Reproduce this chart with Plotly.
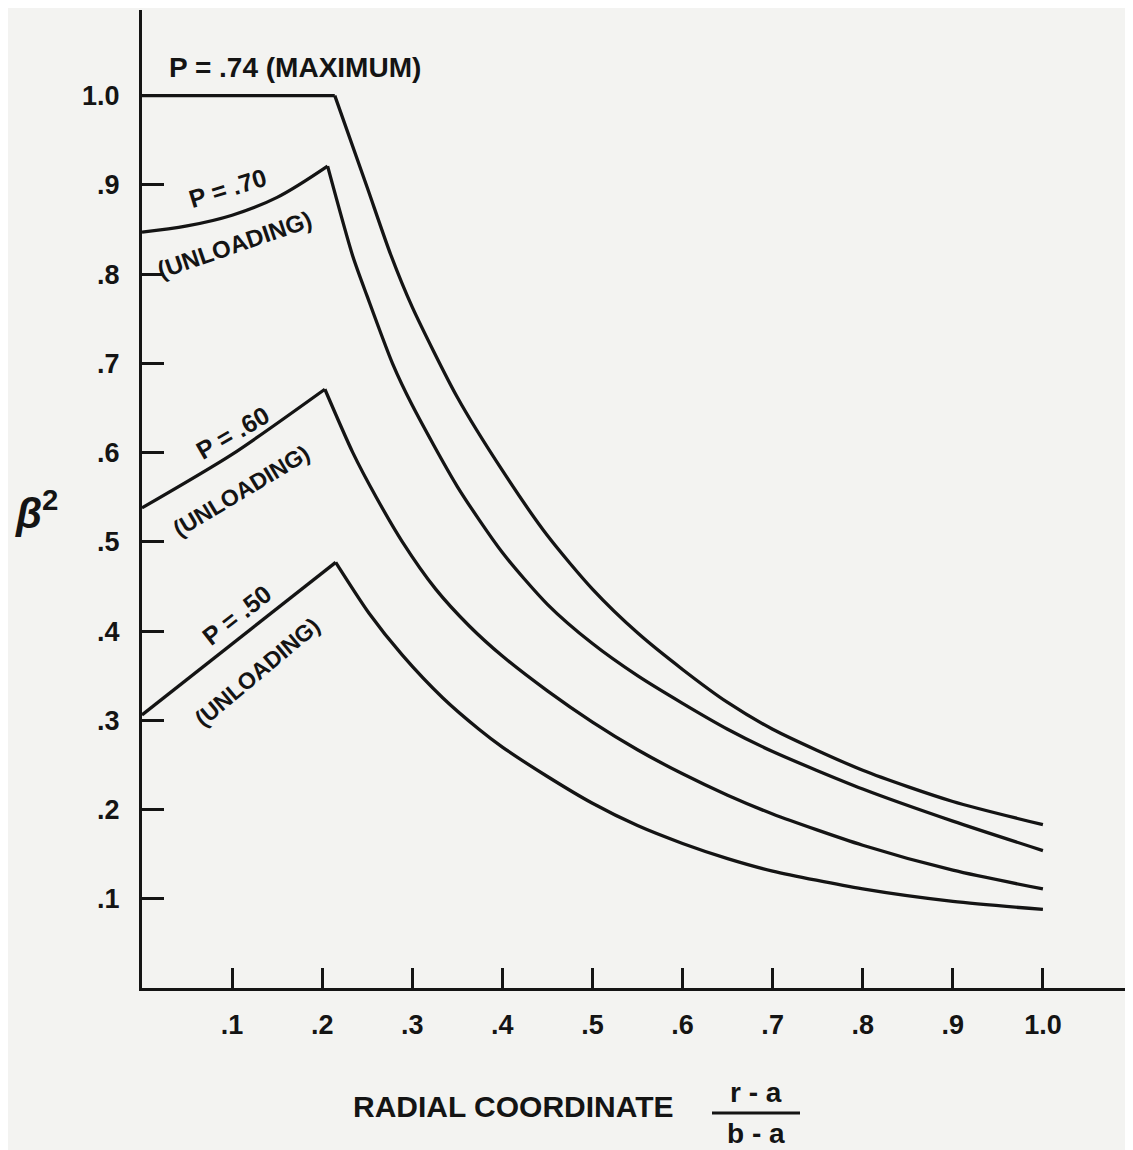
import plotly.graph_objects as go

# ---------------- data ----------------
x_ticks = [0.1, 0.2, 0.3, 0.4, 0.5, 0.6, 0.7, 0.8, 0.9, 1.0]
x_tick_labels = [".1", ".2", ".3", ".4", ".5", ".6", ".7", ".8", ".9", "1.0"]
y_ticks = [0.1, 0.2, 0.3, 0.4, 0.5, 0.6, 0.7, 0.8, 0.9, 1.0]
y_tick_labels = [".1", ".2", ".3", ".4", ".5", ".6", ".7", ".8", ".9", "1.0"]

# P = .74 (maximum)
p74_load_x = [0.0, 0.214]
p74_load_y = [1.0, 1.0]
p74_decay_x = [0.214, 0.25, 0.276, 0.30, 0.35, 0.40, 0.45, 0.50, 0.55, 0.60, 0.65, 0.70, 0.80, 0.90, 1.0]
p74_decay_y = [1.0, 0.897, 0.822, 0.763, 0.662, 0.580, 0.507, 0.447, 0.398, 0.357, 0.320, 0.290, 0.244, 0.209, 0.183]

# P = .70 (unloading)
p70_load_x = [0.0, 0.05, 0.10, 0.15, 0.206]
p70_load_y = [0.847, 0.854, 0.866, 0.886, 0.921]
p70_decay_x = [0.206, 0.234, 0.25, 0.278, 0.30, 0.35, 0.40, 0.45, 0.50, 0.55, 0.60, 0.65, 0.70, 0.80, 0.90, 1.0]
p70_decay_y = [0.921, 0.820, 0.775, 0.700, 0.653, 0.562, 0.488, 0.430, 0.386, 0.350, 0.319, 0.290, 0.265, 0.223, 0.187, 0.154]

# P = .60 (unloading)
p60_load_x = [0.0, 0.10, 0.203]
p60_load_y = [0.538, 0.598, 0.671]
p60_decay_x = [0.203, 0.234, 0.26, 0.289, 0.326, 0.363, 0.40, 0.45, 0.50, 0.55, 0.60, 0.65, 0.70, 0.80, 0.90, 1.0]
p60_decay_y = [0.671, 0.600, 0.550, 0.500, 0.447, 0.406, 0.372, 0.333, 0.298, 0.267, 0.240, 0.216, 0.195, 0.160, 0.132, 0.111]

# P = .50 (unloading)
p50_load_x = [0.0, 0.10, 0.215]
p50_load_y = [0.306, 0.386, 0.477]
p50_decay_x = [0.215, 0.252, 0.289, 0.334, 0.374, 0.40, 0.45, 0.50, 0.55, 0.60, 0.65, 0.70, 0.80, 0.90, 1.0]
p50_decay_y = [0.477, 0.420, 0.373, 0.325, 0.290, 0.270, 0.237, 0.207, 0.182, 0.162, 0.145, 0.131, 0.111, 0.097, 0.088]

# ---------------- figure ----------------
INK = "#141414"
BG = "#f3f3f1"
FONT = "Liberation Sans"
LW = 3.3

fig = go.Figure()

segments = [
    (p74_load_x, p74_load_y, "linear", 0),
    (p74_decay_x, p74_decay_y, "spline", 0.7),
    (p70_load_x, p70_load_y, "spline", 1.0),
    (p70_decay_x, p70_decay_y, "spline", 0.7),
    (p60_load_x, p60_load_y, "spline", 0.7),
    (p60_decay_x, p60_decay_y, "spline", 0.7),
    (p50_load_x, p50_load_y, "linear", 0),
    (p50_decay_x, p50_decay_y, "spline", 0.7),
]
for xs, ys, shape, sm in segments:
    line = dict(color=INK, width=LW, shape=shape)
    if shape == "spline":
        line["smoothing"] = sm
    fig.add_trace(go.Scatter(x=xs, y=ys, mode="lines", line=line,
                             showlegend=False, hoverinfo="skip"))

labels = [
    ("P = .74 (MAXIMUM)", 0.170, 1.032, 0, 28),
    ("P = .70", 0.095, 0.896, -17, 25),
    ("(UNLOADING)", 0.103, 0.833, -19, 24),
    ("P = .60", 0.100, 0.622, -30, 25),
    ("(UNLOADING)", 0.110, 0.557, -31, 23),
    ("P = .50", 0.105, 0.418, -38, 25),
    ("(UNLOADING)", 0.128, 0.354, -40, 23),
]
for text, x, y, ang, sz in labels:
    fig.add_annotation(x=x, y=y, xref="x", yref="y", text=text, showarrow=False,
                       textangle=ang,
                       font=dict(family=FONT, size=sz, color=INK, weight="bold"),
                       xanchor="center", yanchor="middle")

tick_font = dict(family=FONT, size=27, color=INK, weight="bold")
axis_common = dict(showgrid=False, zeroline=False, showline=True, linecolor=INK,
                   linewidth=3, ticks="inside", tickcolor=INK, tickfont=tick_font,
                   tickwidth=2.5, mirror=False)

fig.update_xaxes(range=[0, 1.1], tickvals=x_ticks, ticktext=x_tick_labels,
                 ticklen=20, ticklabelstandoff=11, **axis_common)
fig.update_yaxes(range=[0, 1.096], tickvals=y_ticks, ticktext=y_tick_labels,
                 ticklen=22, ticklabelstandoff=14, **axis_common)

# the page body has an 8px margin; size the figure so the plot lands where the reference has it
OFF = 8
W, H = 1133 - OFF, 1150 - OFF
ML, MT, MB = 142 - OFF, 10 - OFF, 162
fig.update_layout(width=W, height=H, margin=dict(l=ML, r=0, t=MT, b=MB, pad=0),
                  paper_bgcolor=BG, plot_bgcolor=BG, showlegend=False)


def px(xp):
    return (xp - OFF - ML) / (W - ML)


def py(yp):
    return (H - MB - (yp - OFF)) / (H - MT - MB)


# y-axis title (beta squared)
fig.add_annotation(x=px(36), y=py(510), xref="paper", yref="paper",
                   text="<i>β</i><sup>2</sup>", showarrow=False,
                   font=dict(family=FONT, size=42, color=INK, weight="bold"),
                   xanchor="center", yanchor="middle")

title_font = dict(family=FONT, size=30, color=INK, weight="bold")
frac_font = dict(family=FONT, size=28, color=INK, weight="bold")
fig.add_annotation(x=px(513), y=py(1106), xref="paper", yref="paper",
                   text="RADIAL COORDINATE", showarrow=False, font=title_font,
                   xanchor="center", yanchor="middle")
fig.add_annotation(x=px(756), y=py(1092), xref="paper", yref="paper",
                   text="r - a", showarrow=False, font=frac_font,
                   xanchor="center", yanchor="middle")
fig.add_annotation(x=px(756), y=py(1134), xref="paper", yref="paper",
                   text="b - a", showarrow=False, font=frac_font,
                   xanchor="center", yanchor="middle")
fig.add_shape(type="line", xref="paper", yref="paper",
              x0=px(712), x1=px(800), y0=py(1113), y1=py(1113),
              line=dict(color=INK, width=3))

fig.write_html("out.html")
